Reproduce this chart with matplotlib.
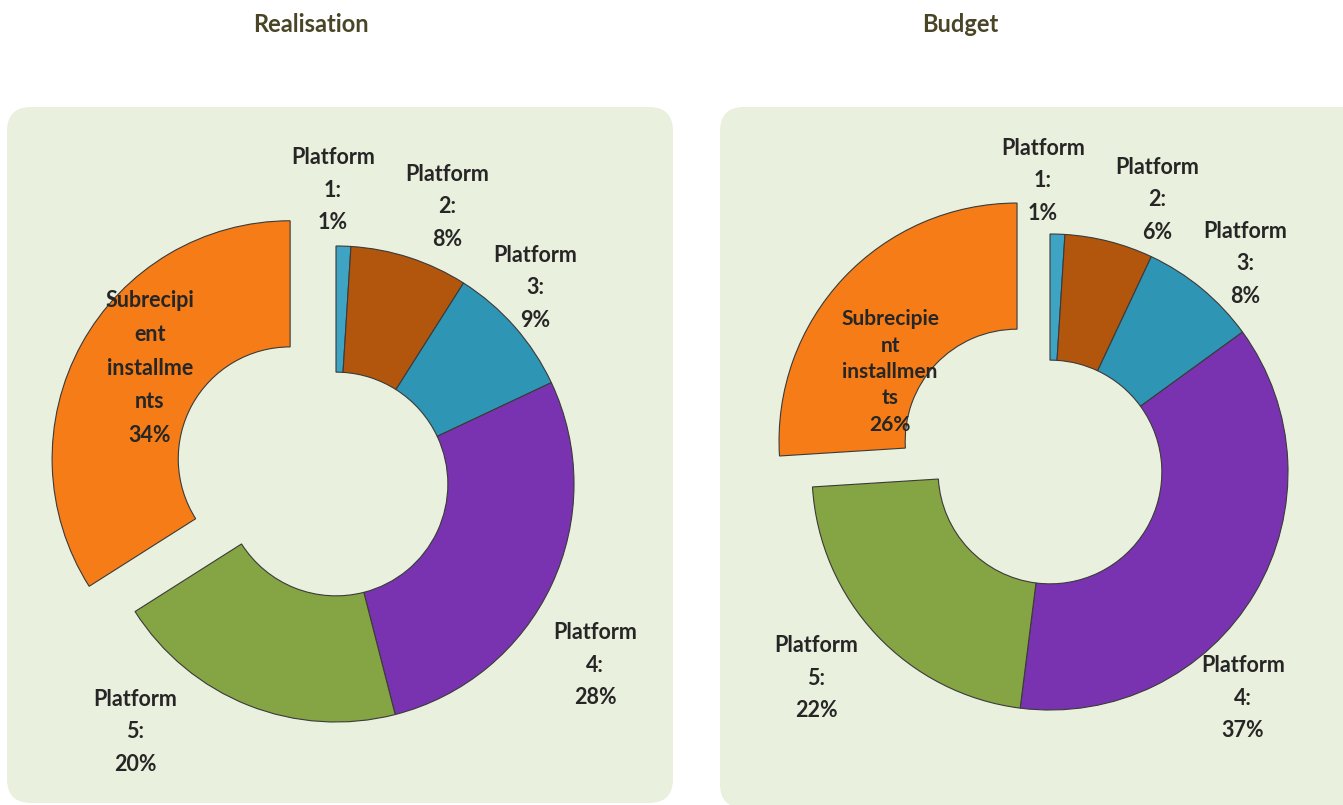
import matplotlib
matplotlib.use("Agg")
import matplotlib.pyplot as plt
from matplotlib.patches import FancyBboxPatch

categories = ["Platform 1", "Platform 2", "Platform 3", "Platform 4", "Platform 5",
              "Subrecipient installments"]
realisation = [1, 8, 9, 28, 20, 34]
budget = [1, 6, 8, 37, 22, 26]

real_labels = ["Platform\n1:\n1%", "Platform\n2:\n8%", "Platform\n3:\n9%",
               "Platform\n4:\n28%", "Platform\n5:\n20%",
               "Subrecipi\nent\ninstallme\nnts\n34%"]
budget_labels = ["Platform\n1:\n1%", "Platform\n2:\n6%", "Platform\n3:\n8%",
                 "Platform\n4:\n37%", "Platform\n5:\n22%",
                 "Subrecipie\nnt\ninstallmen\nts\n26%"]

colors = ["#3FA3C3", "#B2560E", "#2F95B5", "#7A33B0", "#85A444", "#F57C16"]

W, H = 1343, 805
fig = plt.figure(figsize=(W / 100, H / 100), dpi=100)
fig.patch.set_facecolor("white")

# background axes in pixel coordinates for the panels
bg = fig.add_axes([0, 0, 1, 1], zorder=-1)
bg.set_xlim(0, W)
bg.set_ylim(H, 0)
bg.axis("off")

panel_col = "#E9F0DD"

def add_panel(x0, y0, x1, y1):
    p = FancyBboxPatch((x0, y0), x1 - x0, y1 - y0,
                       boxstyle="round,pad=0,rounding_size=24",
                       facecolor=panel_col, edgecolor="none")
    bg.add_patch(p)

add_panel(7, 107, 673, 803)
add_panel(720, 107, 1380, 808)

title_col = "#4A4526"
bg.text(311, 25, "Realisation", ha="center", va="center",
        fontsize=17, fontweight="bold", color=title_col, family="Lato")
bg.text(960, 25, "Budget", ha="center", va="center",
        fontsize=17, fontweight="bold", color=title_col, family="Lato")

LIM = 1.6

def make_ax(cx, cy, R):
    size = 2 * LIM * R
    ax = fig.add_axes([(cx - LIM * R) / W, (H - cy - LIM * R) / H, size / W, size / H])
    return ax

def draw(ax, values, labels, label_pos, explode_dist, sub_fs, sub_ls):
    explode = [0] * (len(values) - 1) + [explode_dist]
    ax.pie(values, colors=colors, startangle=90, counterclock=False,
           explode=explode, radius=1.0,
           wedgeprops=dict(width=0.53, edgecolor="#3a3a3a", linewidth=0.8))
    ax.set_xlim(-LIM, LIM)
    ax.set_ylim(-LIM, LIM)
    ax.set_aspect("equal")
    ax.axis("off")
    for i, (lab, (x, y)) in enumerate(zip(labels, label_pos)):
        last = i == len(labels) - 1
        fs = sub_fs if last else 15.5
        ls = sub_ls if last else 1.68
        ax.text(x, y, lab, ha="center", va="center", fontsize=fs,
                fontweight="bold", color="#262626", family="Lato",
                linespacing=ls)

ax1 = make_ax(336, 484, 238)
pos1 = [(-0.013, 1.235), (0.466, 1.164), (0.836, 0.824), (1.088, -0.761),
        (-0.845, -1.042), (-0.782, 0.487)]
draw(ax1, realisation, real_labels, pos1, 0.22, 15.5, 1.75)

ax2 = make_ax(1050, 472, 238)
pos2 = [(-0.029, 1.223), (0.450, 1.143), (0.819, 0.874), (0.811, -0.950),
        (-0.983, -0.866), (-0.672, 0.420)]
draw(ax2, budget, budget_labels, pos2, 0.19, 15, 1.4)

fig.savefig("out.png", dpi=100, facecolor="white")
